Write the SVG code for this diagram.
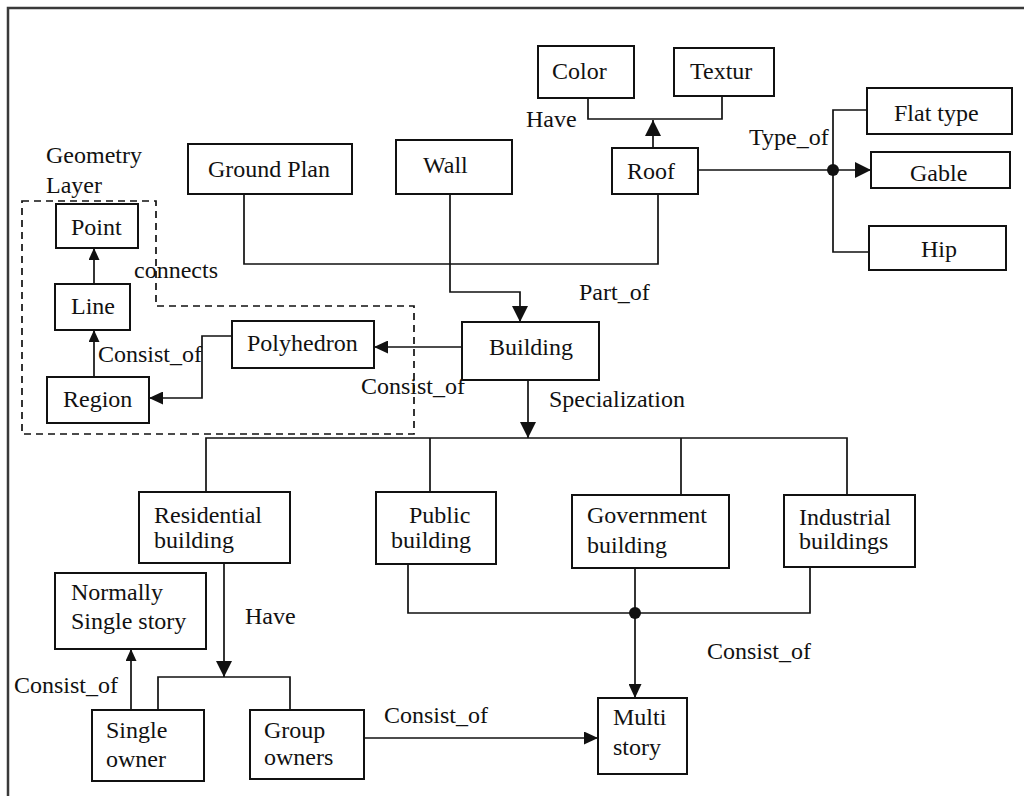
<svg xmlns="http://www.w3.org/2000/svg" width="1024" height="796" viewBox="0 0 1024 796">
  <style>
    .box { fill: #fff; stroke: #111; stroke-width: 2; }
    .ln { fill: none; stroke: #111; stroke-width: 1.7; }
    .dash { fill: none; stroke: #111; stroke-width: 1.7; stroke-dasharray: 7 5; }
    text { font-family: "Liberation Serif", "Times New Roman", serif; font-size: 24px; fill: #111; }
  </style>
  <defs>
    <marker id="arrowBig" markerUnits="userSpaceOnUse" markerWidth="17" markerHeight="16" refX="16" refY="8" orient="auto">
      <path d="M0,0 L16,8 L0,16 z" fill="#111"/>
    </marker>
    <marker id="arrowMid" markerUnits="userSpaceOnUse" markerWidth="15" markerHeight="13" refX="14" refY="6.5" orient="auto">
      <path d="M0,0 L14,6.5 L0,13 z" fill="#111"/>
    </marker>
    <marker id="arrowSmall" markerUnits="userSpaceOnUse" markerWidth="13" markerHeight="11" refX="12" refY="5.5" orient="auto">
      <path d="M0,0 L12,5.5 L0,11 z" fill="#111"/>
    </marker>
  </defs>

  <rect width="1024" height="796" fill="#fff"/>
  <!-- page frame -->
  <path d="M8,796 V8 H1024" fill="none" stroke="#3a3a3a" stroke-width="2.5"/>

  <!-- geometry layer boundary -->
  <g id="geometry-layer">
    <path class="dash" d="M22,201 H156 V306 H414 V434 H22 Z"/>
    <text x="46" y="163">Geometry</text>
    <text x="46" y="193">Layer</text>
  </g>

  <g id="connectors">
    <!-- roof attributes -->
    <path class="ln" d="M588,98 V119 H722 V96"/>
    <path class="ln" d="M653,148 V120" marker-end="url(#arrowBig)"/>
    <!-- roof types -->
    <path class="ln" d="M698,170 H833"/>
    <path class="ln" d="M833,170 H871" marker-end="url(#arrowBig)"/>
    <path class="ln" d="M867,110 H833 V252 H869"/>
    <circle cx="833" cy="170" r="6" fill="#111"/>
    <!-- parts of building -->
    <path class="ln" d="M244,194 V264 H658 V194"/>
    <path class="ln" d="M450,194 V292 H520 V322" marker-end="url(#arrowBig)"/>
    <!-- geometry -->
    <path class="ln" d="M462,347 H374" marker-end="url(#arrowMid)"/>
    <path class="ln" d="M232,336 H202 V398 H149" marker-end="url(#arrowMid)"/>
    <path class="ln" d="M94,284 V248" marker-end="url(#arrowSmall)"/>
    <path class="ln" d="M94,377 V330" marker-end="url(#arrowSmall)"/>
    <!-- specialization -->
    <path class="ln" d="M528,380 V438" marker-end="url(#arrowBig)"/>
    <path class="ln" d="M206,492 V438 H847 V495"/>
    <path class="ln" d="M430,438 V492"/>
    <path class="ln" d="M681,438 V495"/>
    <!-- residential ownership -->
    <path class="ln" d="M224,563 V677" marker-end="url(#arrowBig)"/>
    <path class="ln" d="M158,710 V677 H290 V710"/>
    <path class="ln" d="M131,710 V649" marker-end="url(#arrowSmall)"/>
    <!-- multi story -->
    <path class="ln" d="M408,564 V613 H810 V567"/>
    <path class="ln" d="M635,568 V613"/>
    <path class="ln" d="M635,613 V698" marker-end="url(#arrowMid)"/>
    <circle cx="635" cy="613" r="6" fill="#111"/>
    <path class="ln" d="M364,738 H598" marker-end="url(#arrowMid)"/>

    <!-- relation labels -->
    <text x="526" y="127">Have</text>
    <text x="749" y="145">Type_of</text>
    <text x="579" y="300">Part_of</text>
    <text x="134" y="278">connects</text>
    <text x="98" y="362">Consist_of</text>
    <text x="361" y="394">Consist_of</text>
    <text x="549" y="407">Specialization</text>
    <text x="245" y="624">Have</text>
    <text x="14" y="693">Consist_of</text>
    <text x="384" y="723">Consist_of</text>
    <text x="707" y="659">Consist_of</text>
  </g>

  <g id="color"><rect class="box" x="538" y="46" width="96" height="52"/><text x="552" y="79">Color</text></g>
  <g id="textur"><rect class="box" x="674" y="48" width="100" height="48"/><text x="690" y="79">Textur</text></g>
  <g id="roof"><rect class="box" x="612" y="148" width="86" height="46"/><text x="627" y="179">Roof</text></g>
  <g id="flat-type"><rect class="box" x="867" y="88" width="145" height="46"/><text x="894" y="121">Flat type</text></g>
  <g id="gable"><rect class="box" x="871" y="152" width="139" height="36"/><text x="910" y="181">Gable</text></g>
  <g id="hip"><rect class="box" x="869" y="226" width="137" height="44"/><text x="921" y="257">Hip</text></g>
  <g id="ground-plan"><rect class="box" x="188" y="144" width="164" height="50"/><text x="208" y="177">Ground Plan</text></g>
  <g id="wall"><rect class="box" x="396" y="140" width="116" height="54"/><text x="423" y="173">Wall</text></g>
  <g id="point"><rect class="box" x="56" y="204" width="82" height="44"/><text x="71" y="235">Point</text></g>
  <g id="line"><rect class="box" x="55" y="284" width="75" height="46"/><text x="71" y="314">Line</text></g>
  <g id="region"><rect class="box" x="47" y="377" width="102" height="46"/><text x="63" y="407">Region</text></g>
  <g id="polyhedron"><rect class="box" x="232" y="321" width="142" height="47"/><text x="247" y="351">Polyhedron</text></g>
  <g id="building"><rect class="box" x="462" y="322" width="137" height="58"/><text x="489" y="355">Building</text></g>
  <g id="residential"><rect class="box" x="139" y="492" width="151" height="71"/><text x="154" y="523">Residential</text><text x="154" y="548">building</text></g>
  <g id="public"><rect class="box" x="376" y="492" width="120" height="72"/><text x="409" y="523">Public</text><text x="391" y="548">building</text></g>
  <g id="government"><rect class="box" x="572" y="495" width="157" height="73"/><text x="587" y="523">Government</text><text x="587" y="553">building</text></g>
  <g id="industrial"><rect class="box" x="784" y="495" width="131" height="72"/><text x="799" y="525">Industrial</text><text x="799" y="549">buildings</text></g>
  <g id="single-story"><rect class="box" x="55" y="573" width="151" height="76"/><text x="71" y="600">Normally</text><text x="71" y="629">Single story</text></g>
  <g id="single-owner"><rect class="box" x="92" y="710" width="112" height="71"/><text x="106" y="738">Single</text><text x="106" y="767">owner</text></g>
  <g id="group-owners"><rect class="box" x="250" y="710" width="114" height="69"/><text x="264" y="738">Group</text><text x="264" y="765">owners</text></g>
  <g id="multi-story"><rect class="box" x="598" y="698" width="89" height="76"/><text x="613" y="725">Multi</text><text x="613" y="755">story</text></g>
</svg>
